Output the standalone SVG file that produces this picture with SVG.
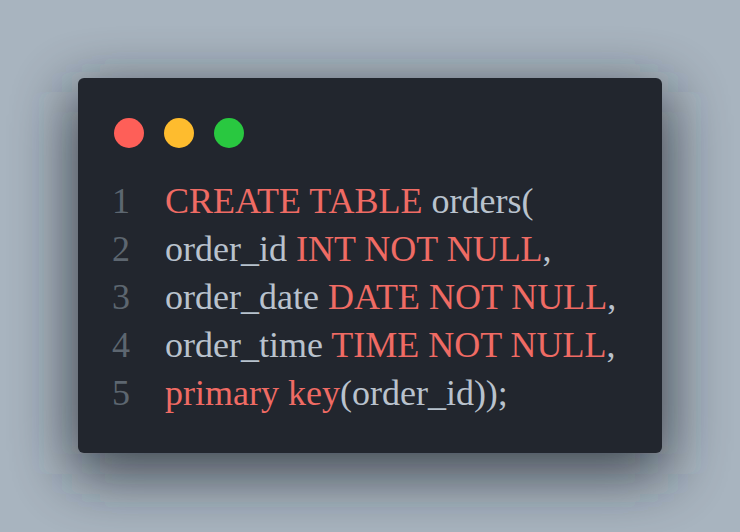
<svg xmlns="http://www.w3.org/2000/svg" width="740" height="532" viewBox="0 0 740 532">
<defs>
<filter id="blur" filterUnits="userSpaceOnUse" x="-100" y="-100" width="940" height="732">
<feGaussianBlur stdDeviation="30"/>
</filter>
<style>
text{font-family:"Liberation Serif","Times New Roman",serif;font-size:36px}
.n{fill:#5d6670}
.k{fill:#ef6b64}
.t{fill:#b9c2cd}
</style>
</defs>
<rect width="740" height="532" fill="#a8b4bf"/>
<rect x="72" y="92" width="596" height="382" rx="10" fill="#1e232b" opacity="0.75" filter="url(#blur)"/>
<g id="card">
<rect x="78" y="78" width="584" height="375" rx="6" fill="#22262e"/>
</g>
<g id="dots">
<circle cx="129" cy="133" r="15" fill="#fe5f58"/>
<circle cx="179" cy="133" r="15" fill="#febc2e"/>
<circle cx="229" cy="133" r="15" fill="#29c840"/>
</g>
<g id="code">
<text class="n" x="112" y="213">1</text>
<text class="n" x="112" y="261">2</text>
<text class="n" x="112" y="309">3</text>
<text class="n" x="112" y="357">4</text>
<text class="n" x="112" y="405">5</text>
<text x="165" y="213"><tspan class="k">CREATE TABLE</tspan><tspan class="t"> orders(</tspan></text>
<text x="165" y="261"><tspan class="t">order_id </tspan><tspan class="k">INT NOT NULL</tspan><tspan class="t">,</tspan></text>
<text x="165" y="309"><tspan class="t">order_date </tspan><tspan class="k">DATE NOT NULL</tspan><tspan class="t">,</tspan></text>
<text x="165" y="357"><tspan class="t">order_time </tspan><tspan class="k">TIME NOT NULL</tspan><tspan class="t">,</tspan></text>
<text x="165" y="405"><tspan class="k">primary key</tspan><tspan class="t">(order_id));</tspan></text>
</g>
</svg>
